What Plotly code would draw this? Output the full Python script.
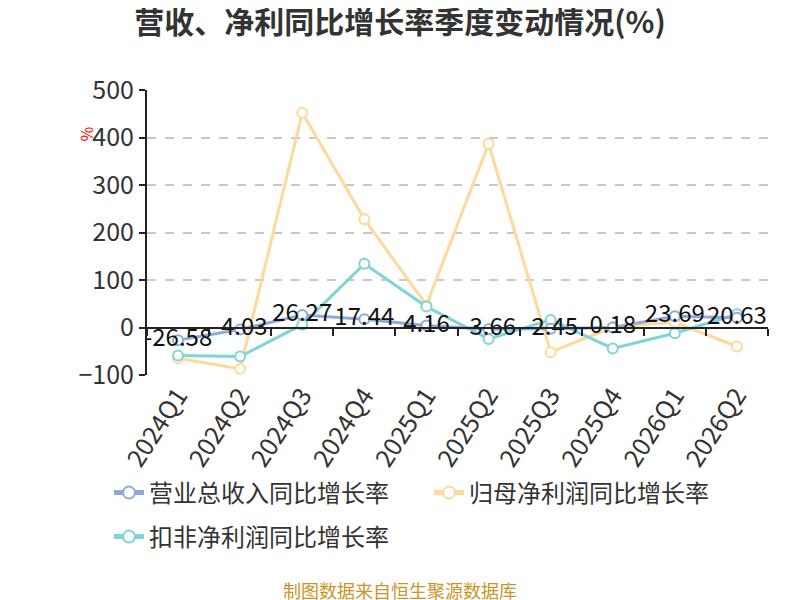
import plotly.graph_objects as go

# 季度
quarters = ["2024Q1", "2024Q2", "2024Q3", "2024Q4", "2025Q1",
            "2025Q2", "2025Q3", "2025Q4", "2026Q1", "2026Q2"]

# 营业总收入同比增长率(%)
revenue_yoy = [-26.58, -4.03, 26.27, 17.44, 4.16, -3.66, -2.45, 0.18, 23.69, 20.63]
# 归母净利润同比增长率(%)
net_profit_yoy = [-65, -87, 452, 228, 47, 387, -52, 1, 11, -40]
# 扣非净利润同比增长率(%)
deducted_profit_yoy = [-59, -61, 6, 134, 44, -24, 16, -44, -12, 28]

y_ticks = [-100, 0, 100, 200, 300, 400, 500]

FONT = "Noto Sans CJK SC, Open Sans, sans-serif"
BLUE = "#8eaadc"
ORANGE = "#ffd89b"
CYAN = "#7fd4d6"

Y_MIN, Y_MAX = -100, 500

# 页面 body 默认有 8px 的外边距, 这里统一扣掉
PAGE_OFFSET = 8
W, H = 800, 600
M_L, M_R, M_T, M_B = 147 - PAGE_OFFSET, 40, 90 - PAGE_OFFSET, 233
PLOT_W = W - M_L - M_R
PLOT_H = H - M_T - M_B


def _paper_x(px):
    """窗口像素 -> 绘图区 paper 坐标"""
    return (px - PAGE_OFFSET - M_L) / PLOT_W


def _paper_y(py):
    return (H - M_B - (py - PAGE_OFFSET)) / PLOT_H


fig = go.Figure()


def _add_series(name, values, color, legend, show_text=False):
    fig.add_trace(
        go.Scatter(
            x=quarters,
            y=values,
            name=name,
            legend=legend,
            mode="lines+markers+text" if show_text else "lines+markers",
            line=dict(color=color, width=3),
            marker=dict(size=10, color="white", line=dict(color=color, width=2)),
            text=[f"{v:g}" for v in values] if show_text else None,
            textposition="middle center",
            textfont=dict(family=FONT, size=24, color="#111111"),
            cliponaxis=False,
        )
    )


# 文本所在的序列最后绘制, 置于最上层; 每个序列单独一个图例, 便于定位
_add_series("归母净利润同比增长率", net_profit_yoy, ORANGE, "legend2")
_add_series("扣非净利润同比增长率", deducted_profit_yoy, CYAN, "legend3")
_add_series("营业总收入同比增长率", revenue_yoy, BLUE, "legend", show_text=True)

# 零轴上的类目轴线(带刻度)
fig.add_trace(
    go.Scatter(
        x=quarters,
        y=[0] * len(quarters),
        xaxis="x2",
        mode="lines",
        line=dict(width=0),
        hoverinfo="skip",
        showlegend=False,
    )
)

zero_pos = (0 - Y_MIN) / (Y_MAX - Y_MIN)


def _legend_at(px, py):
    return dict(
        orientation="h",
        xref="container",
        yref="container",
        x=(px - PAGE_OFFSET) / W,
        xanchor="left",
        y=1 - (py - PAGE_OFFSET) / H,
        yanchor="middle",
        font=dict(family=FONT, size=24, color="#333333"),
        itemsizing="constant",
    )


fig.update_layout(
    width=W,
    height=H,
    paper_bgcolor="white",
    plot_bgcolor="white",
    font=dict(family=FONT, color="#333333"),
    margin=dict(l=M_L, r=M_R, t=M_T, b=M_B),
    title=dict(
        text="<b>营收、净利同比增长率季度变动情况(%)</b>",
        x=(400 - PAGE_OFFSET) / W,
        xanchor="center",
        y=1 - (22 - PAGE_OFFSET) / H,
        yanchor="middle",
        font=dict(family=FONT, size=30, color="#333333"),
    ),
    xaxis=dict(
        type="category",
        categoryarray=quarters,
        showline=False,
        ticks="",
        showgrid=False,
        zeroline=False,
        automargin=False,
        tickangle=-57,
        tickfont=dict(family=FONT, size=25, color="#333333"),
        range=[-0.5, len(quarters) - 0.5],
    ),
    xaxis2=dict(
        type="category",
        categoryarray=quarters,
        overlaying="x",
        anchor="free",
        position=zero_pos,
        side="bottom",
        showline=True,
        linecolor="#222222",
        linewidth=2,
        ticks="outside",
        tickson="boundaries",
        ticklen=7,
        tickwidth=2,
        tickcolor="#222222",
        showticklabels=False,
        showgrid=False,
        automargin=False,
        range=[-0.5, len(quarters) - 0.5],
    ),
    yaxis=dict(
        range=[Y_MIN, Y_MAX],
        tickvals=y_ticks,
        showline=True,
        linecolor="#222222",
        linewidth=2,
        ticks="outside",
        ticklen=6,
        tickwidth=2,
        tickcolor="#222222",
        showgrid=True,
        gridcolor="#c8c8c8",
        griddash="dash",
        gridwidth=1.5,
        zeroline=False,
        automargin=False,
        tickfont=dict(family=FONT, size=25, color="#333333"),
    ),
    legend=_legend_at(109, 493),
    legend2=_legend_at(429, 493),
    legend3=_legend_at(109, 537),
    showlegend=True,
)

fig.add_annotation(
    text="%",
    x=_paper_x(71),
    xref="paper",
    y=_paper_y(125),
    yref="paper",
    showarrow=False,
    textangle=-90,
    font=dict(family=FONT, size=16, color="#ff0000"),
)

fig.add_annotation(
    text="制图数据来自恒生聚源数据库",
    x=_paper_x(400),
    xref="paper",
    y=_paper_y(590),
    yref="paper",
    yanchor="middle",
    showarrow=False,
    font=dict(family=FONT, size=18, color="#c9952a"),
)

fig.write_html("out.html")
